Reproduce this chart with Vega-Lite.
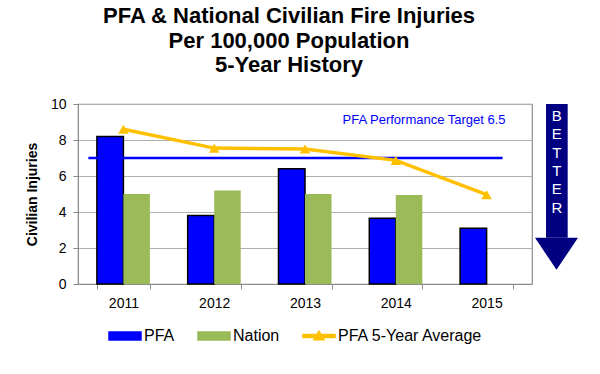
{
  "$schema": "https://vega.github.io/schema/vega-lite/v6.json",
  "width": 454,
  "height": 180,
  "autosize": {"type": "none"},
  "padding": {"left": 78, "top": 104, "right": 68, "bottom": 90},
  "background": "white",
  "config": {
    "font": "Liberation Sans",
    "view": {"stroke": "#8C8C8C", "strokeWidth": 1.2},
    "axisY": {"tickCount": 6, "labelOverlap": false}
  },
  "title": {
    "text": ["PFA & National Civilian Fire Injuries", "Per 100,000 Population", "5-Year History"],
    "fontSize": 22,
    "fontWeight": "bold",
    "font": "Liberation Sans",
    "color": "black",
    "lineHeight": 24.5,
    "anchor": "middle",
    "frame": "group",
    "dx": -16,
    "offset": 20
  },
  "datasets": {
    "injuries": [
      {"year": "2011", "series": "PFA", "value": 8.2},
      {"year": "2011", "series": "Nation", "value": 5.0},
      {"year": "2011", "series": "PFA 5-Year Average", "value": 8.6},
      {"year": "2012", "series": "PFA", "value": 3.8},
      {"year": "2012", "series": "Nation", "value": 5.2},
      {"year": "2012", "series": "PFA 5-Year Average", "value": 7.55},
      {"year": "2013", "series": "PFA", "value": 6.4},
      {"year": "2013", "series": "Nation", "value": 5.0},
      {"year": "2013", "series": "PFA 5-Year Average", "value": 7.5},
      {"year": "2014", "series": "PFA", "value": 3.65},
      {"year": "2014", "series": "Nation", "value": 4.95},
      {"year": "2014", "series": "PFA 5-Year Average", "value": 6.87},
      {"year": "2015", "series": "PFA", "value": 3.1},
      {"year": "2015", "series": "PFA 5-Year Average", "value": 4.96}
    ],
    "target": [
      {"start": "2011", "end": "2015", "value": 7.0, "label": "PFA Performance Target 6.5"}
    ],
    "arrowShaft": [
      {"x": 0.256, "x2": 0.76, "y": 10, "y2": 2.57}
    ],
    "arrowHead": [
      {"y": 2.57, "x": 0, "x2": 1},
      {"y": 0.79, "x": 0.5, "x2": 0.5}
    ],
    "arrowText": [
      {"x": 0.508, "label": "BETTER"}
    ]
  },
  "resolve": {"scale": {"x": "independent", "y": "independent"}},
  "layer": [
    {
      "layer": [
        {
          "data": {"name": "injuries"},
          "transform": [{"filter": "datum.series !== 'PFA 5-Year Average'"}],
          "mark": {"type": "bar", "strokeWidth": 1.5},
          "encoding": {
            "x": {
              "field": "year",
              "type": "nominal",
              "scale": {"type": "band", "paddingInner": 0.416, "paddingOuter": 0.208},
              "axis": {
                "title": null,
                "labelAngle": 0,
                "tickBand": "extent",
                "tickSize": 5,
                "tickColor": "#8C8C8C",
                "domainColor": "#8C8C8C",
                "labelPadding": 7,
                "labelFontSize": 14,
                "labelColor": "black",
                "labelFont": "Liberation Sans",
                "grid": false
              }
            },
            "xOffset": {
              "field": "series",
              "type": "nominal",
              "scale": {"domain": ["PFA", "Nation"], "paddingInner": 0, "paddingOuter": 0}
            },
            "y": {
              "field": "value",
              "type": "quantitative",
              "scale": {"domain": [0, 10], "nice": false},
              "axis": {
                "title": "Civilian Injuries",
                "titleFontSize": 14,
                "titleFontWeight": "bold",
                "titleColor": "black",
                "titleFont": "Liberation Sans",
                "titlePadding": 11,
                "values": [0, 2, 4, 6, 8, 10],
                "tickCount": 6,
                "labelOverlap": false,
                "grid": true,
                "gridColor": "#B0B0B0",
                "tickSize": 5,
                "tickColor": "#8C8C8C",
                "domainColor": "#8C8C8C",
                "labelPadding": 7,
                "labelFontSize": 14,
                "labelColor": "black",
                "labelFont": "Liberation Sans"
              }
            },
            "color": {
              "field": "series",
              "type": "nominal",
              "scale": {
                "domain": ["PFA", "Nation", "PFA 5-Year Average"],
                "range": ["#0000FF", "#9BBB59", "#FFC000"]
              },
              "legend": {
                "title": null,
                "orient": "none",
                "direction": "horizontal",
                "legendX": 30,
                "legendY": 215,
                "symbolSize": 1024,
                "labelFontSize": 16,
                "labelFont": "Liberation Sans",
                "labelColor": "black",
                "labelOffset": 2,
                "columnPadding": 20,
                "encode": {
                  "symbols": {
                    "update": {
                      "shape": {"signal": "datum.value === 'PFA 5-Year Average' ? 'M-1,-0.1H1V0.1H-1Z M-0.32,0.24L0,-0.3L0.32,0.24Z' : 'M-1,-0.25H1V0.25H-1Z'"},
                      "fill": {"signal": "datum.value === 'PFA' ? '#0000FF' : datum.value === 'Nation' ? '#9BBB59' : '#FFC000'"},
                      "stroke": {"signal": "datum.value === 'PFA' ? 'black' : 'transparent'"},
                      "strokeWidth": {"value": 1.5},
                      "opacity": {"value": 1},
                      "fillOpacity": {"value": 1}
                    }
                  }
                }
              }
            },
            "stroke": {
              "condition": {"test": "datum.series === 'PFA'", "value": "black"},
              "value": "transparent"
            }
          }
        },
        {
          "data": {"name": "target"},
          "mark": {"type": "rule", "color": "#0000FF", "strokeWidth": 2.5, "xOffset": -35, "x2Offset": 16},
          "encoding": {
            "x": {"field": "start", "type": "nominal"},
            "x2": {"field": "end"},
            "y": {
              "field": "value",
              "type": "quantitative",
              "axis": {
                "title": "Civilian Injuries",
                "values": [0, 2, 4, 6, 8, 10],
                "tickCount": 6,
                "labelOverlap": false
              }
            }
          }
        },
        {
          "data": {"name": "target"},
          "mark": {"type": "text", "align": "right", "baseline": "middle", "color": "#0000FF", "fontSize": 13, "font": "Liberation Sans", "dx": 19},
          "encoding": {
            "x": {"field": "end", "type": "nominal"},
            "y": {
              "datum": 9.1,
              "axis": {
                "title": "Civilian Injuries",
                "values": [0, 2, 4, 6, 8, 10],
                "tickCount": 6,
                "labelOverlap": false
              }
            },
            "text": {"field": "label"}
          }
        },
        {
          "data": {"name": "injuries"},
          "transform": [{"filter": "datum.series === 'PFA 5-Year Average'"}],
          "mark": {
            "type": "line",
            "strokeWidth": 3.5,
            "point": {"shape": "triangle-up", "size": 110, "filled": true, "opacity": 1}
          },
          "encoding": {
            "x": {"field": "year", "type": "nominal"},
            "y": {
              "field": "value",
              "type": "quantitative",
              "axis": {
                "title": "Civilian Injuries",
                "values": [0, 2, 4, 6, 8, 10],
                "tickCount": 6,
                "labelOverlap": false
              }
            },
            "color": {
              "field": "series",
              "type": "nominal",
              "legend": {
                "title": null,
                "orient": "none",
                "direction": "horizontal",
                "legendX": 30,
                "legendY": 215,
                "symbolSize": 1024,
                "labelFontSize": 16,
                "labelFont": "Liberation Sans",
                "labelColor": "black",
                "labelOffset": 2,
                "columnPadding": 20,
                "encode": {
                  "symbols": {
                    "update": {
                      "shape": {"signal": "datum.value === 'PFA 5-Year Average' ? 'M-1,-0.1H1V0.1H-1Z M-0.32,0.24L0,-0.3L0.32,0.24Z' : 'M-1,-0.25H1V0.25H-1Z'"},
                      "fill": {"signal": "datum.value === 'PFA' ? '#0000FF' : datum.value === 'Nation' ? '#9BBB59' : '#FFC000'"},
                      "stroke": {"signal": "datum.value === 'PFA' ? 'black' : 'transparent'"},
                      "strokeWidth": {"value": 1.5},
                      "opacity": {"value": 1},
                      "fillOpacity": {"value": 1}
                    }
                  }
                }
              }
            }
          }
        }
      ]
    },
    {
      "layer": [
        {
          "data": {"name": "arrowShaft"},
          "mark": {"type": "rect", "color": "#000080"},
          "encoding": {
            "x": {"field": "x", "type": "quantitative", "scale": {"domain": [-10.628, -0.07], "nice": false, "zero": false}, "axis": null},
            "x2": {"field": "x2"},
            "y": {"field": "y", "type": "quantitative", "scale": {"domain": [0, 10], "nice": false}, "axis": null},
            "y2": {"field": "y2"}
          }
        },
        {
          "data": {"name": "arrowHead"},
          "mark": {"type": "area", "orient": "horizontal", "color": "#000080", "opacity": 1},
          "encoding": {
            "y": {"field": "y", "type": "quantitative", "axis": null},
            "x": {"field": "x", "type": "quantitative", "axis": null},
            "x2": {"field": "x2"}
          }
        },
        {
          "data": {"name": "arrowText"},
          "mark": {"type": "text", "text": "B\nE\nT\nT\nE\nR", "lineBreak": "\n", "lineHeight": 18.3, "color": "white", "fontSize": 15, "font": "Liberation Sans", "align": "center", "baseline": "middle"},
          "encoding": {
            "x": {"field": "x", "type": "quantitative", "axis": null},
            "y": {"datum": 9.33, "axis": null}
          }
        }
      ]
    }
  ]
}
